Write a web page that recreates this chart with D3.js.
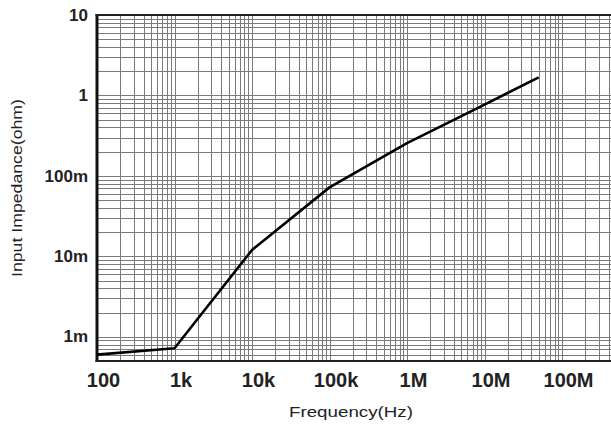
<!DOCTYPE html>
<html><head><meta charset="utf-8">
<script src="https://cdn.jsdelivr.net/npm/d3@7"></script>
<style>
html,body{margin:0;padding:0;background:#fff;}
svg{display:block;}
</style></head>
<body>
<svg id="chart" width="611" height="426"></svg>
<script>
// Data
const freqHz = [100, 1e3, 1e4, 1e5, 1e6, 1e7, 5e7];
const impedanceOhm = [0.6e-3, 0.72e-3, 12e-3, 72e-3, 0.255, 0.77, 1.68];
const xTickValues = [1e2, 1e3, 1e4, 1e5, 1e6, 1e7, 1e8];
const xTickLabels = ["100", "1k", "10k", "100k", "1M", "10M", "100M"];
const yTickValues = [1e-3, 1e-2, 1e-1, 1, 10];
const yTickLabels = ["1m", "10m", "100m", "1", "10"];
const xTitle = "Frequency(Hz)";
const yTitle = "Input Impedance(ohm)";

const svg = d3.select("#chart");
const pL = 97, pR = 611, pT = 15, pB = 361;

const x = d3.scaleLog().domain([100, Math.pow(10, 8.632)]).range([pL, pR]);
const y = d3.scaleLog().domain([0.5e-3, 10]).range([pB, pT]);

// minor + major grid values
const xGrid = [];
for (let e = 2; e <= 8; e++) for (let m = 1; m <= 9; m++) { const v = m * Math.pow(10, e); if (v > x.domain()[0] && v < x.domain()[1]) xGrid.push(v); }
const yGrid = [];
for (let e = -4; e <= 0; e++) for (let m = 1; m <= 9; m++) { const v = m * Math.pow(10, e); if (v > y.domain()[0] && v < y.domain()[1]) yGrid.push(v); }

const grid = svg.append("g").attr("shape-rendering", "crispEdges");
grid.selectAll("line.vx").data(xGrid).join("line")
  .attr("x1", d => Math.round(x(d)) + 0.5).attr("x2", d => Math.round(x(d)) + 0.5)
  .attr("y1", pT).attr("y2", pB)
  .attr("stroke", "#7a7a7a").attr("stroke-width", 1);
grid.selectAll("line.hy").data(yGrid).join("line")
  .attr("y1", d => Math.round(y(d)) + 0.5).attr("y2", d => Math.round(y(d)) + 0.5)
  .attr("x1", pL).attr("x2", pR)
  .attr("stroke", "#7a7a7a").attr("stroke-width", 1);

// frame
svg.append("line").attr("x1", pL).attr("x2", pL).attr("y1", pT - 1).attr("y2", pB + 1)
  .attr("stroke", "#111").attr("stroke-width", 3);
svg.append("line").attr("x1", pL - 1.5).attr("x2", pR).attr("y1", pT).attr("y2", pT)
  .attr("stroke", "#222").attr("stroke-width", 2.2);
svg.append("line").attr("x1", pL - 1.5).attr("x2", pR).attr("y1", pB).attr("y2", pB)
  .attr("stroke", "#222").attr("stroke-width", 2.2);

// curve
const pts = freqHz.map((f, i) => [f, impedanceOhm[i]]);
svg.append("path").datum(pts)
  .attr("d", d3.line().x(d => x(d[0])).y(d => y(d[1])))
  .attr("fill", "none").attr("stroke", "#000").attr("stroke-width", 2.6)
  .attr("stroke-linejoin", "round");

// axes
const labelFont = "'Liberation Sans Narrow', 'Arial Narrow', 'Liberation Sans', Arial, sans-serif";
const xAxis = d3.axisBottom(x).tickValues(xTickValues)
  .tickFormat((d, i) => xTickLabels[i]).tickSize(0).tickPadding(0);
const gx = svg.append("g").attr("transform", `translate(6,${pB})`).call(xAxis);
gx.select(".domain").remove();
gx.selectAll("text").attr("y", 26).attr("dy", 0)
  .attr("font-family", labelFont).attr("font-weight", "bold").attr("font-size", 20).attr("fill", "#222");

const yAxis = d3.axisLeft(y).tickValues(yTickValues)
  .tickFormat((d, i) => yTickLabels[i]).tickSize(0).tickPadding(0);
const gy = svg.append("g").attr("transform", `translate(88,0)`).call(yAxis);
gy.select(".domain").remove();
gy.selectAll("text").attr("x", 0).attr("dy", "0.3em")
  .attr("font-family", labelFont).attr("font-weight", "bold").attr("font-size", 17).attr("fill", "#222");

// titles
svg.append("text").attr("x", 351).attr("y", 417).attr("text-anchor", "middle")
  .attr("font-family", "'Liberation Sans', Arial, sans-serif").attr("font-size", 15).attr("fill", "#222")
  .attr("textLength", 124).attr("lengthAdjust", "spacingAndGlyphs")
  .text(xTitle);
svg.append("text").attr("transform", "translate(22,188) rotate(-90)").attr("text-anchor", "middle")
  .attr("font-family", "'Liberation Sans', Arial, sans-serif").attr("font-size", 14).attr("fill", "#222")
  .attr("textLength", 178).attr("lengthAdjust", "spacingAndGlyphs")
  .text(yTitle);
</script>
</body></html>
